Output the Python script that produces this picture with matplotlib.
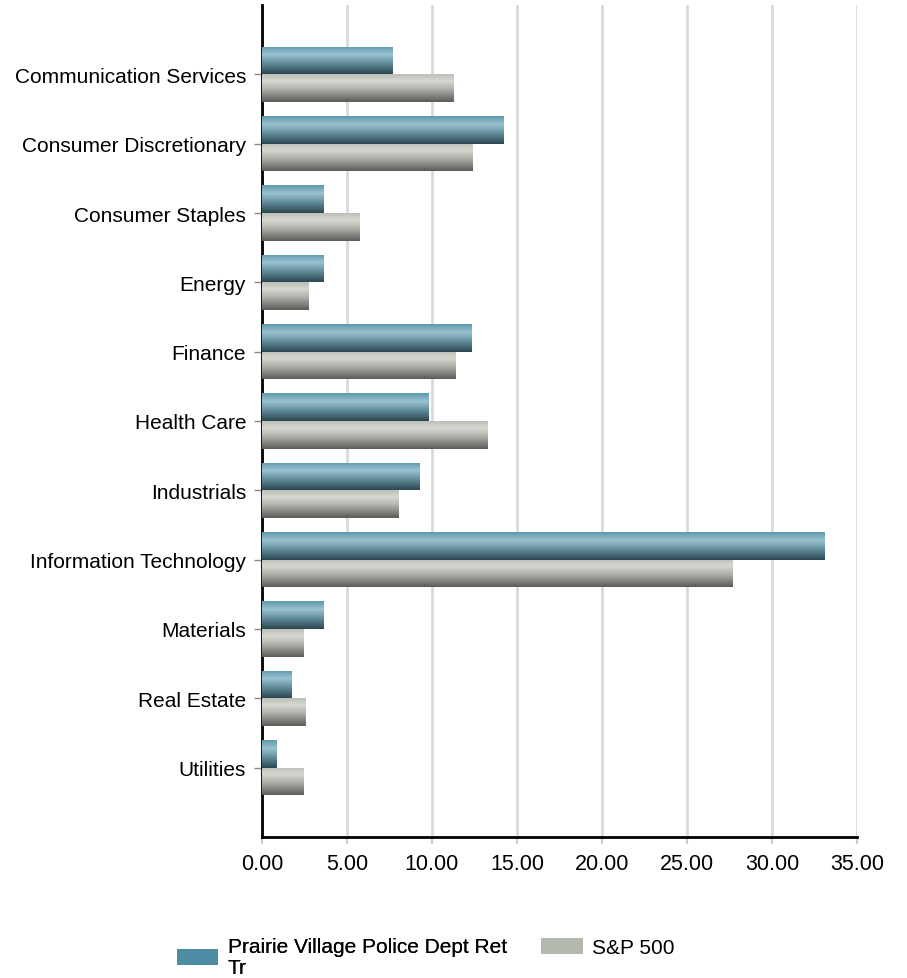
import numpy as np
import matplotlib.pyplot as plt
from matplotlib.colors import LinearSegmentedColormap
from matplotlib.patches import Patch

plt.rcParams['font.family'] = ['Liberation Sans', 'DejaVu Sans']

sectors = [
    "Communication Services",
    "Consumer Discretionary",
    "Consumer Staples",
    "Energy",
    "Finance",
    "Health Care",
    "Industrials",
    "Information Technology",
    "Materials",
    "Real Estate",
    "Utilities",
]
fund = [7.70, 14.18, 3.63, 3.61, 12.32, 9.79, 9.24, 33.06, 3.61, 1.76, 0.88]
sp500 = [11.27, 12.37, 5.76, 2.75, 11.39, 13.24, 8.02, 27.65, 2.47, 2.57, 2.45]
series_names = ["Prairie Village Police Dept Ret\nTr", "S&P 500"]

xticks = np.arange(0, 35.01, 5)

# vertical shading for the bars, top -> bottom
blue_shade = LinearSegmentedColormap.from_list(
    "blue_shade", [(0.0, "#5b98ad"), (0.3, "#9cc2cf"), (0.55, "#6c98a7"), (1.0, "#2b4650")])
gray_shade = LinearSegmentedColormap.from_list(
    "gray_shade", [(0.0, "#bcbfb7"), (0.25, "#d6d8d1"), (0.55, "#adafa8"), (1.0, "#5a5b57")])

fig = plt.figure(figsize=(9.07, 9.79), dpi=100)
ax = fig.add_axes([262 / 907, 141 / 979, 595 / 907, 832 / 979])

y = np.arange(len(sectors))
h = 0.4
grad = np.linspace(0, 1, 256).reshape(-1, 1)


def shaded_bars(vals, offset, cmap):
    bars = ax.barh(y + offset, vals, height=h, color="none", zorder=3)
    for b in bars:
        x0, y0 = b.get_x(), b.get_y()
        x1, y1 = x0 + b.get_width(), y0 + b.get_height()
        im = ax.imshow(grad, cmap=cmap, aspect="auto", interpolation="bilinear",
                       extent=(x0, x1, y1, y0), origin="upper", zorder=3)
        im.set_clip_path(b)


shaded_bars(fund, -h / 2, blue_shade)
shaded_bars(sp500, h / 2, gray_shade)

ax.set_xlim(0, 35)
ax.set_ylim(len(sectors), -1)
ax.set_xticks(xticks)
ax.set_xticklabels([f"{v:.2f}" for v in xticks])
ax.set_yticks(y)
ax.set_yticklabels(sectors)

ax.xaxis.grid(True, color="#d9d9d9", linewidth=2, zorder=0)
ax.set_axisbelow(True)
for side in ("top", "right"):
    ax.spines[side].set_visible(False)
for side in ("left", "bottom"):
    ax.spines[side].set_linewidth(2)
    ax.spines[side].set_color("black")
ax.tick_params(axis="y", length=6, width=1, color="#888888", labelsize=15, pad=5.5)
ax.tick_params(axis="x", length=5, width=1.5, color="#cccccc", labelsize=15.5, pad=6.5)

leg1 = fig.legend(handles=[Patch(facecolor="#4d8ca4")], labels=[series_names[0]],
                  loc="upper left", bbox_to_anchor=(0.174, 0.0612), frameon=False,
                  fontsize=15, handlelength=2.0, handleheight=0.8, handletextpad=0.45)
leg1.get_texts()[0].set_linespacing(1.12)
leg2 = fig.legend(handles=[Patch(facecolor="#b4b9af")], labels=[series_names[1]],
                  loc="upper left", bbox_to_anchor=(0.576, 0.0602), frameon=False,
                  fontsize=15, handlelength=2.0, handleheight=0.8, handletextpad=0.45)
fig.add_artist(leg1)

fig.savefig("out.png", dpi=100)
